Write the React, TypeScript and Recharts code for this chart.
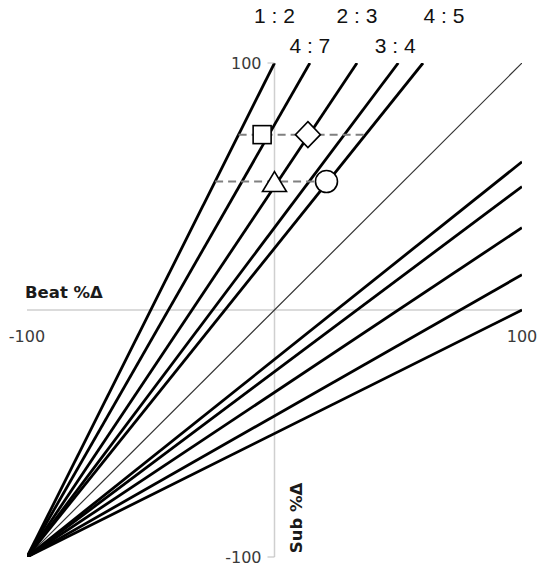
import { ComposedChart, Line, Scatter, XAxis, YAxis, ReferenceLine, ReferenceDot, LabelList } from 'recharts';

// ratio lines, read as (beat + 100) : (sub + 100)
const upperRatios = ['1 : 2', '4 : 7', '2 : 3', '3 : 4', '4 : 5'];
const lowerRatios = ['5 : 4', '4 : 3', '3 : 2', '7 : 4', '2 : 1'];
const unisonRatio = '1 : 1';
const ORIGIN = { x: -100, y: -100 };

const axisTicks = [-100, 100];

// dashed guides
const guideY = [71, 52];
const guideFrom = [-14.5, -24];
const guideTo = [36.8, 21];

// markers
const markerShapes = ['square', 'diamond', 'triangle', 'circle'];
const markerX = [-5, 13.5, 0, 21];
const markerY = [71, 71, 52, 52];

// label placement for the ratio names above the top edge
const labelRow: Record<string, number> = { '1 : 2': 0, '2 : 3': 0, '4 : 5': 0, '4 : 7': 1, '3 : 4': 1 };
const labelShift: Record<string, number> = { '4 : 5': 21, '3 : 4': -3 };

function endPoint(ratio: string) {
  const [a, b] = ratio.split(':').map((s) => Number(s.trim()));
  if (a <= b) return { x: (200 * a) / b - 100, y: 100 };
  return { x: 100, y: (200 * b) / a - 100 };
}

const tickFont = { fontFamily: 'DejaVu Sans, Verdana, sans-serif', fontSize: 16, fill: '#3a3a3a' };
const titleFont = { fontFamily: 'DejaVu Sans, Verdana, sans-serif', fontSize: 16.5, fontWeight: 'bold', fill: '#1a1a1a' };

function MarkerShape(props: any) {
  const { cx, cy, payload } = props;
  const common = { fill: '#fff', stroke: '#000', strokeWidth: 1.6 };
  switch (payload.shape) {
    case 'square':
      return <rect x={cx - 9} y={cy - 9} width={18} height={18} {...common} />;
    case 'diamond':
      return <polygon points={`${cx},${cy - 13} ${cx + 12.5},${cy} ${cx},${cy + 13} ${cx - 12.5},${cy}`} {...common} />;
    case 'triangle':
      return <polygon points={`${cx},${cy - 10} ${cx + 12},${cy + 10} ${cx - 12},${cy + 10}`} {...common} />;
    default:
      return <circle cx={cx} cy={cy} r={11} {...common} />;
  }
}

export default function App() {
  const markers = markerShapes.map((shape, i) => ({ shape, x: markerX[i], y: markerY[i] }));
  const guides = guideY.map((y, i) => [
    { x: guideFrom[i], y },
    { x: guideTo[i], y },
  ]);

  const ratioLabel = (ratio: string) => (p: any) => {
    if (p.index !== 1) return null;
    const row = labelRow[ratio];
    const dy = row === 0 ? 40 : 10;
    return (
      <text
        x={p.x + (labelShift[ratio] || 0)}
        y={p.y - dy}
        textAnchor="middle"
        fontFamily="Liberation Sans, Arial, sans-serif"
        fontSize={21}
        fill="#111"
      >
        {ratio}
      </text>
    );
  };

  return (
    <div style={{ position: 'absolute', left: 0, top: 0 }}>
      <ComposedChart width={540} height={572} margin={{ top: 63, right: 18, bottom: 15, left: 27 }}>
        <XAxis type="number" dataKey="x" domain={[-100, 100]} hide allowDataOverflow />
        <YAxis type="number" dataKey="y" domain={[-100, 100]} hide allowDataOverflow />

        <ReferenceLine
          y={0}
          stroke="#cfcfcf"
          strokeWidth={1.5}
          label={(p: any) => (
            <text x={p.viewBox.x - 2} y={p.viewBox.y - 12} {...titleFont}>
              Beat %Δ
            </text>
          )}
        />
        <ReferenceLine
          x={0}
          stroke="#cfcfcf"
          strokeWidth={1.5}
          label={(p: any) => {
            const bx = p.viewBox.x + 27;
            const by = p.viewBox.y + p.viewBox.height - 39;
            return (
              <text x={bx} y={by} transform={`rotate(-90 ${bx} ${by})`} textAnchor="middle" {...titleFont}>
                Sub %Δ
              </text>
            );
          }}
        />

        {axisTicks.map((t) => (
          <ReferenceDot
            key={`xt${t}`}
            x={t}
            y={0}
            r={0}
            fill="none"
            stroke="none"
            label={(p: any) => (
              <text x={p.viewBox.x} y={p.viewBox.y + 32} textAnchor="middle" {...tickFont}>
                {t}
              </text>
            )}
          />
        ))}
        {axisTicks.map((t) => (
          <ReferenceDot
            key={`yt${t}`}
            x={0}
            y={t}
            r={0}
            fill="none"
            stroke="none"
            label={(p: any) => (
              <g>
                <line x1={p.viewBox.x - 7} x2={p.viewBox.x} y1={p.viewBox.y} y2={p.viewBox.y} stroke="#bbb" strokeWidth={1} />
                <text x={p.viewBox.x - 13} y={p.viewBox.y + 6} textAnchor="end" {...tickFont}>
                  {t}
                </text>
              </g>
            )}
          />
        ))}

        <Line
          data={[ORIGIN, endPoint(unisonRatio)]}
          dataKey="y"
          stroke="#333"
          strokeWidth={1.2}
          dot={false}
          isAnimationActive={false}
        />
        {lowerRatios.map((r) => (
          <Line
            key={r}
            data={[ORIGIN, endPoint(r)]}
            dataKey="y"
            stroke="#000"
            strokeWidth={2.8}
            dot={false}
            isAnimationActive={false}
          />
        ))}
        {upperRatios.map((r) => (
          <Line
            key={r}
            data={[ORIGIN, endPoint(r)]}
            dataKey="y"
            stroke="#000"
            strokeWidth={2.8}
            dot={false}
            isAnimationActive={false}
          >
            <LabelList dataKey="y" content={ratioLabel(r)} />
          </Line>
        ))}

        {guides.map((g, i) => (
          <Line
            key={`g${i}`}
            data={g}
            dataKey="y"
            stroke="#808080"
            strokeWidth={2}
            strokeDasharray="8 5"
            dot={false}
            isAnimationActive={false}
          />
        ))}

        <Scatter data={markers} dataKey="y" shape={MarkerShape} isAnimationActive={false} />
      </ComposedChart>
    </div>
  );
}
